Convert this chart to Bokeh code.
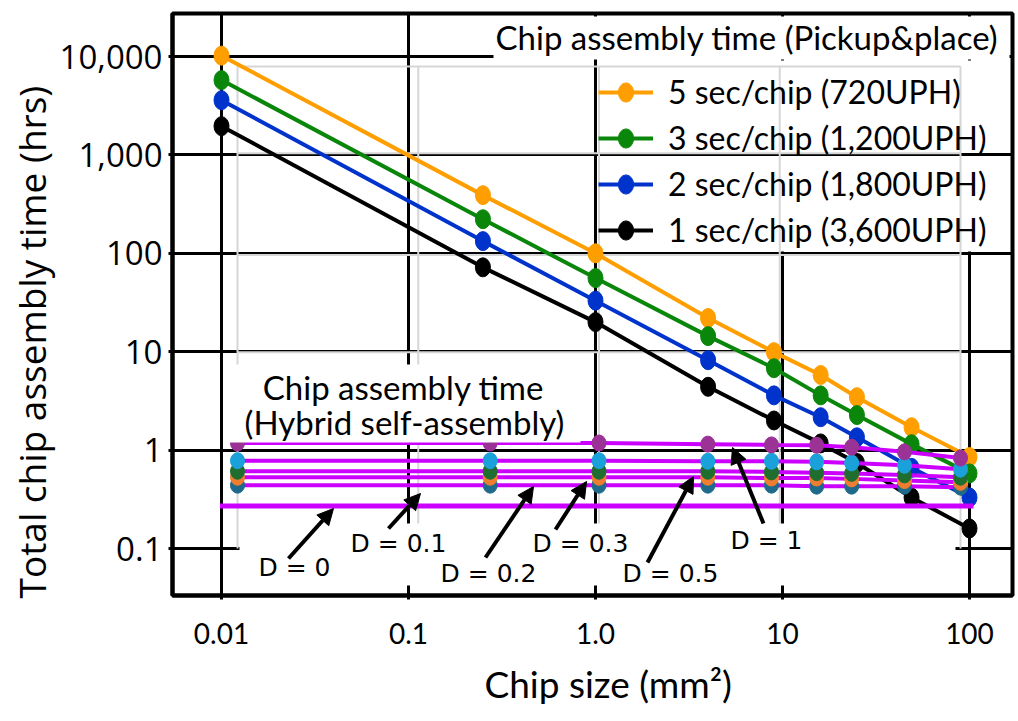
import math
from bokeh.plotting import figure
from bokeh.models import (Range1d, LogScale, FixedTicker, Legend, LegendItem,
                          BoxAnnotation, Label, Arrow, NormalHead, Grid, Title)
from bokeh.embed import file_html
from bokeh.resources import INLINE

# ---------------- data ----------------
x_chip = [0.01, 0.25, 1, 4, 9, 16, 25, 49, 100]          # chip size, mm^2
t_5s = [10200, 390, 100, 22, 9.9, 5.8, 3.45, 1.71, 0.85]   # hrs
t_3s = [5760, 222, 56, 14.4, 6.8, 3.6, 2.27, 1.15, 0.58]
t_2s = [3600, 133, 33, 8.2, 3.6, 2.16, 1.35, 0.66, 0.33]
t_1s = [1960, 72, 20, 4.4, 2.0, 1.17, 0.74, 0.33, 0.16]
pp_labels = ["5 sec/chip (720UPH)", "3 sec/chip (1,200UPH)",
             "2 sec/chip (1,800UPH)", "1 sec/chip (3,600UPH)"]

x_hyb = [0.01, 0.25, 1, 4, 9, 16, 25, 49, 100]
h_d01 = [0.44, 0.44, 0.44, 0.44, 0.44, 0.43, 0.43, 0.43, 0.42]
h_d02 = [0.53, 0.53, 0.53, 0.53, 0.52, 0.52, 0.51, 0.49, 0.47]
h_d03 = [0.61, 0.61, 0.61, 0.61, 0.60, 0.59, 0.58, 0.56, 0.53]
h_d05 = [0.78, 0.78, 0.78, 0.77, 0.77, 0.76, 0.74, 0.70, 0.64]
h_d1 = [1.18, 1.18, 1.18, 1.15, 1.13, 1.12, 1.07, 0.96, 0.83]
x_d0 = [0.008, 118]
h_d0 = [0.27, 0.27]
d_labels = ["D = 0", "D = 0.1", "D = 0.2", "D = 0.3", "D = 0.5", "D = 1"]

x_ticks = [0.01, 0.1, 1, 10, 100]
x_tick_labels = ["0.01", "0.1", "1.0", "10", "100"]
y_ticks = [0.1, 1, 10, 100, 1000, 10000]
y_tick_labels = ["0.1", "1", "10", "100", "1,000", "10,000"]
gray_y = [7900, 1040, 96, 9.9]

# ---------------- geometry helpers (page pixels) ----------------
PAGE = 0
FL, FR, FT, FB = 172, 1012, 13, 595
W, H = 1016, 721


def cx(px):
    return px - PAGE


def cy(py):
    return py - PAGE


def log_span(p_a, v_a, p_b, v_b, lo, hi):
    k = (math.log10(v_b) - math.log10(v_a)) / (p_b - p_a)
    f = lambda p: 10 ** (math.log10(v_a) + (p - p_a) * k)
    return f(lo), f(hi)


x0, x1 = log_span(221, 0.01, 969, 100, FL, FR)
hx0, hx1 = log_span(237, 0.01, 960, 100, FL, FR)
y_bot, y_top = log_span(548, 0.1, 56, 10000, FB, FT)

p = figure(width=W, height=H, x_axis_type="log", y_axis_type="log",
           x_range=Range1d(x0, x1), y_range=Range1d(y_bot, y_top),
           output_backend="svg", toolbar_location=None,
           min_border_left=FL - PAGE, min_border_right=PAGE + W - FR,
           min_border_top=FT - PAGE, min_border_bottom=PAGE + H - FB)
p.extra_x_ranges = {"hyb": Range1d(hx0, hx1)}
p.extra_x_scales = {"hyb": LogScale()}

p.background_fill_color = "white"
p.border_fill_color = "white"
p.outline_line_color = "black"
p.outline_line_width = 4

# axes
for ax in (p.xaxis[0], p.yaxis[0]):
    ax.axis_line_width = 4
    ax.major_tick_line_width = 3
    ax.major_tick_in = 0
    ax.major_tick_out = 4
    ax.minor_tick_line_color = None
    ax.major_label_text_color = "black"
p.xaxis.ticker = FixedTicker(ticks=x_ticks, minor_ticks=[])
p.xaxis.major_label_overrides = {t: l for t, l in zip(x_ticks, x_tick_labels)}
p.xaxis.major_label_text_font = "Lato"
p.xaxis.major_label_text_font_size = "28px"
p.xaxis.major_label_standoff = 23
p.yaxis.ticker = FixedTicker(ticks=y_ticks, minor_ticks=[])
p.yaxis.major_label_overrides = {t: l for t, l in zip(y_ticks, y_tick_labels)}
p.yaxis.major_label_text_font = "Open Sans"
p.yaxis.major_label_text_font_size = "33px"
p.yaxis.major_label_standoff = 6

p.xgrid.ticker = FixedTicker(ticks=x_ticks, minor_ticks=[])
p.ygrid.ticker = FixedTicker(ticks=y_ticks, minor_ticks=[])
for g in (p.xgrid[0], p.ygrid[0]):
    g.grid_line_color = "black"
    g.grid_line_width = 3

# axis titles
p.add_layout(Title(text="Total chip assembly time (hrs)", align="left", offset=-3,
                   vertical_align="bottom", standoff=0,
                   text_font="Open Sans", text_font_size="37px",
                   text_font_style="normal", text_color="black"), "left")
p.add_layout(Title(text="Chip size (mm\u00b2)", align="left", offset=484 - FL,
                   vertical_align="top", standoff=28,
                   text_font="Lato", text_font_size="37px",
                   text_font_style="normal", text_color="black"), "below")

# white area behind the legend (hides vertical grid lines), then horizontal grid again
p.add_layout(BoxAnnotation(left=cx(600), right=cx(1009), top=cy(60), bottom=cy(251),
                           left_units="canvas", right_units="canvas",
                           top_units="canvas", bottom_units="canvas",
                           fill_color="white", fill_alpha=1, line_color=None,
                           level="underlay"))
p.add_layout(Grid(dimension=1, ticker=FixedTicker(ticks=y_ticks, minor_ticks=[]),
                  grid_line_color="black", grid_line_width=3))

# faint grid of the underlying self-assembly chart
p.segment(x0=x_ticks, y0=[gray_y[0]] * len(x_ticks), x1=x_ticks, y1=[0.1] * len(x_ticks),
          line_color="#d6d6d6", line_width=2, x_range_name="hyb")
p.segment(x0=[0.01] * len(gray_y), y0=gray_y, x1=[100] * len(gray_y), y1=gray_y,
          line_color="#d6d6d6", line_width=2, x_range_name="hyb")

# ---------------- pick & place series ----------------
pp_series = [t_5s, t_3s, t_2s, t_1s]
pp_colors = ["#FF9E00", "#0A870A", "#0033CC", "#000000"]
items = []
for lab, ys, col in zip(pp_labels, pp_series, pp_colors):
    lr = p.line(x_chip, ys, line_color=col, line_width=4)
    er = p.ellipse(x=x_chip, y=ys, width=15, height=19, width_units="screen",
                   height_units="screen", fill_color=col, line_color=col)
    items.append(LegendItem(label=lab, renderers=[lr, er]))

# ---------------- hybrid self-assembly series ----------------
magenta = "#CC00FF"
p.line(x_d0, h_d0, line_color=magenta, line_width=5, x_range_name="hyb")
hyb_series = [h_d01, h_d02, h_d03, h_d05, h_d1]
hyb_colors = ["#1F6A8A", "#EE7D31", "#1F6E30", "#1BA1DA", "#9B3296"]
for ys in hyb_series:
    p.line(x_hyb, ys, line_color=magenta, line_width=4, x_range_name="hyb")
for ys, col in zip(hyb_series, hyb_colors):
    p.ellipse(x=x_hyb, y=ys, width=14, height=16, width_units="screen",
              height_units="screen", fill_color=col, line_color=col, x_range_name="hyb")

# ---------------- annotations ----------------
def box(l, r, t, b, level="annotation"):
    p.add_layout(BoxAnnotation(left=cx(l), right=cx(r), top=cy(t), bottom=cy(b),
                               left_units="canvas", right_units="canvas",
                               top_units="canvas", bottom_units="canvas",
                               fill_color="white", fill_alpha=1, line_color=None,
                               level=level))


def label(px, py, text, font, size, align="center", angle=0.0):
    p.add_layout(Label(x=cx(px), y=cy(py), x_units="canvas", y_units="canvas",
                       text=text, text_font=font, text_font_size=size,
                       text_align=align, text_baseline="middle", angle=angle,
                       text_color="black"))


box(493, 1009, 16, 59)      # behind the pick & place title
box(228, 580, 364, 442)     # behind the hybrid title
box(239, 955, 523, 585)     # behind the D labels

label(495, 36, "Chip assembly time (Pickup&place)", "Lato", "33px", align="left")
label(403, 386, "Chip assembly time", "Lato", "33px")
label(404, 421, "(Hybrid self-assembly)", "Lato", "33px")

d_pos = [(294, 567), (398, 543), (488, 573), (580, 543), (670, 573), (766, 540)]
arrows = [((288, 558), (333, 508)), ((388, 528), (420, 493)), ((485, 557), (533, 486)),
          ((555, 529), (586, 481)), ((647, 562), (693, 476)), ((763, 523), (732, 447))]
for (lx, ly), txt, ((ax0, ay0), (ax1, ay1)) in zip(d_pos, d_labels, arrows):
    p.add_layout(Arrow(x_start=cx(ax0), y_start=cy(ay0), x_end=cx(ax1), y_end=cy(ay1),
                       start_units="canvas", end_units="canvas",
                       line_color="black", line_width=4,
                       end=NormalHead(size=16, fill_color="black", line_color="black")))
    label(lx, ly, txt, "DejaVu Sans", "25px")

legend = Legend(items=items, location=(598 - FL, FB - 249),
                glyph_width=55, glyph_height=24, label_height=36, spacing=7,
                padding=0, margin=0, label_standoff=15,
                background_fill_alpha=0, border_line_color=None,
                label_text_font="Lato", label_text_font_size="32px",
                label_text_color="black")
p.add_layout(legend)

open("out.html", "w").write(file_html(p, INLINE))
